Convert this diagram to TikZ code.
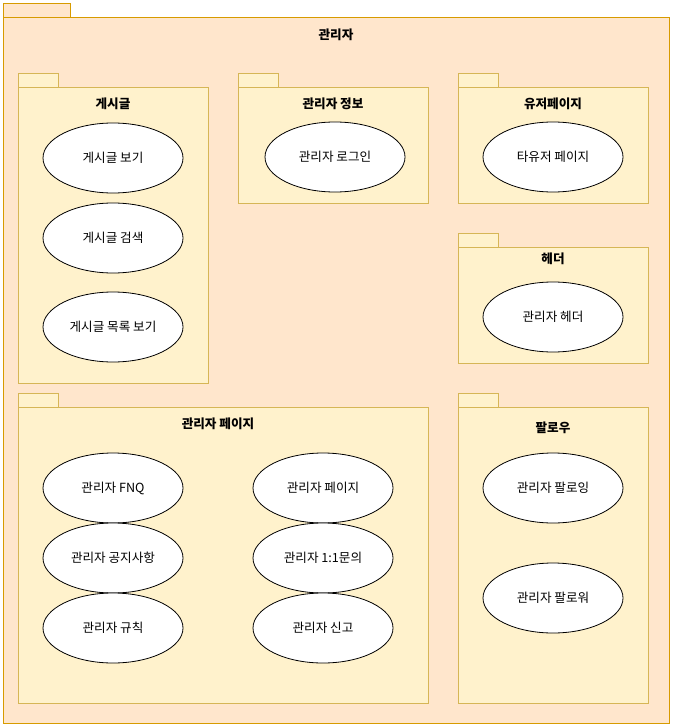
\documentclass[tikz,border=0pt]{standalone}
\usepackage{fontspec}
\setmainfont{Noto Sans CJK KR}
\usetikzlibrary{shapes.geometric}
\definecolor{outerfill}{HTML}{FFE6CC}
\definecolor{outerline}{HTML}{D79B00}
\definecolor{pkgfill}{HTML}{FFF2CC}
\definecolor{pkgline}{HTML}{D6B656}
\begin{document}
\begin{tikzpicture}[x=1pt,y=-1pt,line join=miter,
	usecase/.style={ellipse,draw=black,fill=white,line width=0.8pt,minimum width=140pt,minimum height=70pt,inner sep=0pt,font=\fontsize{12.6}{14}\selectfont},
	pkgtitle/.style={font=\bfseries\fontsize{12.6}{14}\selectfont},
	outerbox/.style={draw=outerline,fill=outerfill,line width=0.8pt},
	pkgbox/.style={draw=pkgline,fill=pkgfill,line width=0.8pt}]
		\useasboundingbox (0,0) rectangle (672,727) ;
		% outer package
		\draw[outerbox] (3,3) rectangle (70,17) ;
		\draw[outerbox] (3,17) rectangle (669,723) ;
		\node[pkgtitle] (admin) at (336,35) {관리자} ;
		% inner packages
		\draw[pkgbox] (18,73) rectangle (58,87) ;
		\draw[pkgbox] (18,87) rectangle (208,383) ;
		\node[pkgtitle] (post) at (113,104) {게시글} ;
		\draw[pkgbox] (238,73) rectangle (278,87) ;
		\draw[pkgbox] (238,87) rectangle (428,203) ;
		\node[pkgtitle] (info) at (333,104) {관리자 정보} ;
		\draw[pkgbox] (458,73) rectangle (498,87) ;
		\draw[pkgbox] (458,87) rectangle (648,203) ;
		\node[pkgtitle] (userpage) at (553,104) {유저페이지} ;
		\draw[pkgbox] (458,233) rectangle (498,247) ;
		\draw[pkgbox] (458,247) rectangle (648,363) ;
		\node[pkgtitle] (header) at (553,259) {헤더} ;
		\draw[pkgbox] (18,393) rectangle (58,407) ;
		\draw[pkgbox] (18,407) rectangle (428,703) ;
		\node[pkgtitle] (adminpage) at (218,424) {관리자 페이지} ;
		\draw[pkgbox] (458,393) rectangle (498,407) ;
		\draw[pkgbox] (458,407) rectangle (648,703) ;
		\node[pkgtitle] (follow) at (553,428) {팔로우} ;
		% use cases
		\node[usecase] (postview) at (113,158) {게시글 보기} ;
		\node[usecase] (postsearch) at (113,238) {게시글 검색} ;
		\node[usecase] (postlist) at (113,327) {게시글 목록 보기} ;
		\node[usecase] (login) at (335,157) {관리자 로그인} ;
		\node[usecase] (otheruser) at (553,157) {타유저 페이지} ;
		\node[usecase] (adminheader) at (553,317) {관리자 헤더} ;
		\node[usecase] (fnq) at (113,488) {관리자 FNQ} ;
		\node[usecase] (notice) at (113,558) {관리자 공지사항} ;
		\node[usecase] (rule) at (113,628) {관리자 규칙} ;
		\node[usecase] (mypage) at (323,488) {관리자 페이지} ;
		\node[usecase] (inquiry) at (323,558) {관리자 1:1문의} ;
		\node[usecase] (report) at (323,628) {관리자 신고} ;
		\node[usecase] (following) at (553,488) {관리자 팔로잉} ;
		\node[usecase] (follower) at (553,598) {관리자 팔로워} ;
	\end{tikzpicture}
\end{document}
